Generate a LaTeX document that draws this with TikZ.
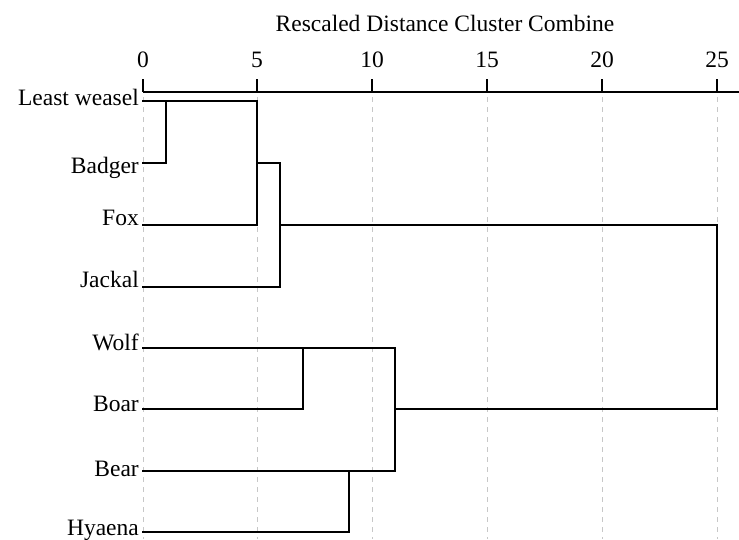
\documentclass[tikz,border=0pt]{standalone}
\usepackage{fontspec}
\setmainfont{Liberation Serif}
\tikzset{
  lab/.style={anchor=base east, inner sep=0pt, font=\fontsize{23.5}{28}\selectfont},
  num/.style={anchor=base, inner sep=0pt, font=\fontsize{23.5}{28}\selectfont},
  grid line/.style={draw=black!22, line width=1pt, dash pattern=on 5pt off 5pt},
  branch/.style={draw=black, line width=2pt, line cap=rect},
  axisline/.style={draw=black, line width=2.2pt},
}
\begin{document}
\begin{tikzpicture}[x=1pt,y=-1pt]
\useasboundingbox (0,0) rectangle (739,539);
% grid
\foreach \gx in {143,257,372,487,602,717}{
  \draw[grid line] (\gx,97) -- (\gx,539);
}
% axis
\node[num] (title) at (445,31) {Rescaled Distance Cluster Combine};
\coordinate (ax0) at (143,92);
\coordinate (ax1) at (739,92);
\draw[axisline] (ax0) -- (ax1);
\foreach \gx/\lab [count=\i] in {143/0,257/5,372/10,487/15,602/20,717/25}{
  \coordinate (t\i) at (\gx,79);
  \coordinate (b\i) at (\gx,92);
  \draw[axisline] (t\i) -- (b\i);
  \node[num] (n\i) at (\gx,67) {\lab};
}
% labels
\node[lab] (lw) at (139,105) {Least weasel};
\node[lab] (bd) at (139,173) {Badger};
\node[lab] (fx) at (139,225) {Fox};
\node[lab] (jk) at (139,287) {Jackal};
\node[lab] (wf) at (139,350) {Wolf};
\node[lab] (br) at (139,411) {Boar};
\node[lab] (be) at (139,476) {Bear};
\node[lab] (hy) at (139,535) {Hyaena};
% leaf starts
\coordinate (lw0) at (143,101);
\coordinate (bd0) at (143,163);
\coordinate (fx0) at (143,225);
\coordinate (jk0) at (143,287);
\coordinate (wf0) at (143,348);
\coordinate (br0) at (143,409);
\coordinate (be0) at (143,471);
\coordinate (hy0) at (143,532);
% joins
\coordinate (j1a) at (166,163); \coordinate (j1b) at (166,101);
\coordinate (j2a) at (257,101); \coordinate (j2b) at (257,225); \coordinate (j2m) at (257,163);
\coordinate (j3a) at (280,163); \coordinate (j3b) at (280,287); \coordinate (j3m) at (280,225);
\coordinate (j4a) at (303,409); \coordinate (j4b) at (303,348);
\coordinate (j5a) at (349,532); \coordinate (j5b) at (349,471);
\coordinate (j6a) at (395,348); \coordinate (j6b) at (395,471); \coordinate (j6m) at (395,409);
\coordinate (j7a) at (717,225); \coordinate (j7b) at (717,409);
% branches
\draw[branch] (lw0) -- (j2a);
\draw[branch] (bd0) -- (j1a) -- (j1b);
\draw[branch] (fx0) -- (j2b);
\draw[branch] (j2a) -- (j2b);
\draw[branch] (j2m) -- (j3a);
\draw[branch] (jk0) -- (j3b);
\draw[branch] (j3a) -- (j3b);
\draw[branch] (j3m) -- (j7a);
\draw[branch] (wf0) -- (j6a);
\draw[branch] (br0) -- (j4a) -- (j4b);
\draw[branch] (be0) -- (j6b);
\draw[branch] (hy0) -- (j5a) -- (j5b);
\draw[branch] (j6a) -- (j6b);
\draw[branch] (j6m) -- (j7b);
\draw[branch] (j7a) -- (j7b);
\end{tikzpicture}
\end{document}
